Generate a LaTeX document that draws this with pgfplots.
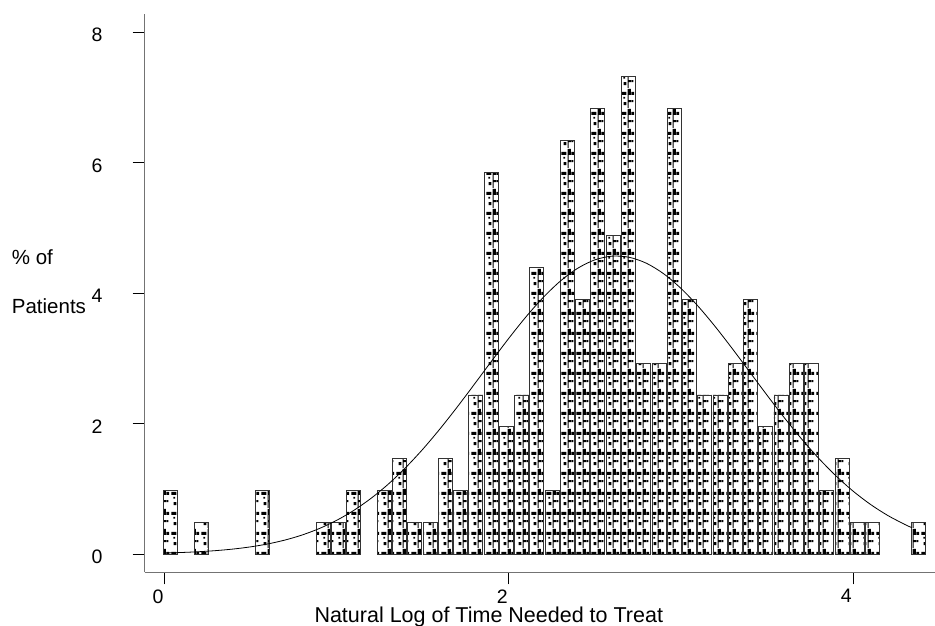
\documentclass[border=0pt]{standalone}
\usepackage{pgfplots}
\pgfplotsset{compat=1.18}
\usepackage{fontspec}
\setmainfont{Liberation Sans}
\usetikzlibrary{patterns}

\pgfdeclarepatternformonly{bartex}{\pgfqpoint{0pt}{0pt}}{\pgfqpoint{15.26pt}{19.5pt}}{\pgfqpoint{15.26pt}{19.5pt}}{%
  % band at tile bottom (bar-relative), with a small gap
  \pgfpathrectangle{\pgfqpoint{11.1pt}{13.5pt}}{\pgfqpoint{4.16pt}{3pt}}%
  \pgfpathrectangle{\pgfqpoint{0pt}{13.5pt}}{\pgfqpoint{2.3pt}{3pt}}%
  \pgfpathrectangle{\pgfqpoint{4.6pt}{13.5pt}}{\pgfqpoint{5.3pt}{3pt}}%
  % blob at lower left
  \pgfpathrectangle{\pgfqpoint{11.1pt}{16.5pt}}{\pgfqpoint{3.5pt}{3pt}}%
  % left edge stripe
  \pgfpathrectangle{\pgfqpoint{11.1pt}{0pt}}{\pgfqpoint{1.2pt}{19.5pt}}%
  % dot at right
  \pgfpathrectangle{\pgfqpoint{6.84pt}{3pt}}{\pgfqpoint{3pt}{3pt}}%
  % dash at left
  \pgfpathrectangle{\pgfqpoint{11.1pt}{6pt}}{\pgfqpoint{4.16pt}{2pt}}%
  \pgfpathrectangle{\pgfqpoint{0pt}{6pt}}{\pgfqpoint{1.5pt}{2pt}}%
  % small mark
  \pgfpathrectangle{\pgfqpoint{6.6pt}{9.5pt}}{\pgfqpoint{2pt}{2pt}}%
  \pgfusepath{fill}%
}

\pgfplotstableread{
x y
0.03500 0.9756
0.21230 0.4878
0.56690 0.9756
0.92150 0.4878
1.01015 0.4878
1.09880 0.9756
1.27610 0.9756
1.36475 1.4634
1.45340 0.4878
1.54205 0.4878
1.63070 1.4634
1.71935 0.9756
1.80800 2.4390
1.89665 5.8537
1.98530 1.9512
2.07395 2.4390
2.16260 4.3902
2.25125 0.9756
2.33990 6.3415
2.42855 3.9024
2.51720 6.8293
2.60585 4.8780
2.69450 7.3171
2.78315 2.9268
2.87180 2.9268
2.96045 6.8293
3.04910 3.9024
3.13775 2.4390
3.22640 2.4390
3.31505 2.9268
3.40370 3.9024
3.49235 1.9512
3.58100 2.4390
3.66965 2.9268
3.75830 2.9268
3.84695 0.9756
3.93560 1.4634
4.02425 0.4878
4.11290 0.4878
4.37885 0.4878
}\histdata

\pgfplotstableread{
x y
0.00 0.0156
0.10 0.0238
0.20 0.0358
0.30 0.0530
0.40 0.0771
0.50 0.1103
0.60 0.1553
0.70 0.2151
0.80 0.2930
0.90 0.3925
1.00 0.5176
1.10 0.6707
1.20 0.8560
1.30 1.0734
1.40 1.3245
1.50 1.6076
1.60 1.9199
1.70 2.2547
1.80 2.6049
1.90 2.9601
2.00 3.3089
2.10 3.6384
2.20 3.9353
2.30 4.1868
2.40 4.3816
2.50 4.5106
2.60 4.5675
2.70 4.5494
2.80 4.4574
2.90 4.2959
3.00 4.0725
3.10 3.7977
3.20 3.4835
3.30 3.1431
3.40 2.7897
3.50 2.4355
3.60 2.0915
3.70 1.7667
3.80 1.4680
3.90 1.2000
4.00 0.9647
4.10 0.7629
4.20 0.5935
4.30 0.4541
4.34 0.4062
}\curvedata

\begin{document}
\begin{tikzpicture}[x=1pt,y=1pt]
\useasboundingbox (0,0) rectangle (935,626);
\begin{axis}[
  at={(144.7pt,53.7pt)}, anchor=south west,
  scale only axis, width=790.3pt, height=558.3pt,
  xmin=-0.116, xmax=4.476, ymin=-0.28, ymax=8.28,
  axis lines*=left,
  axis line style={draw=black!55, line width=1.1pt},
  xtick={0,2,4}, ytick={0,2,4,6,8},
  xtick pos=bottom, ytick pos=left,
  tick align=outside,
  major tick length=12pt,
  tick style={black, line width=0.9pt},
  /pgf/number format/assume math mode=true,
  ticklabel style={font=\fontsize{19.5}{19.5}\selectfont, inner sep=0pt},
  xticklabel style={anchor=north, xshift=-6.7pt, yshift=-5pt},
  yticklabel style={anchor=east, xshift=-30pt, yshift=-3pt},
  clip=false,
]
\addplot[ybar, bar width=0.0813, draw=black!80, line width=0.8pt, pattern=bartex, pattern color=black] table[x=x,y=y] {\histdata};
\addplot[black, line width=0.8pt, smooth, no markers] table[x=x,y=y] {\curvedata};
\end{axis}
\node[anchor=base west, inner sep=0pt, font=\fontsize{20.5}{20.5}\selectfont] at (11.7,361) {\% of};
\node[anchor=base west, inner sep=0pt, font=\fontsize{20.5}{20.5}\selectfont] at (11.7,312.7) {Patients};
\node[anchor=base west, inner sep=0pt, font=\fontsize{21.5}{21.5}\selectfont] at (314.3,3.3) {Natural Log of Time Needed to Treat};
\end{tikzpicture}
\end{document}
